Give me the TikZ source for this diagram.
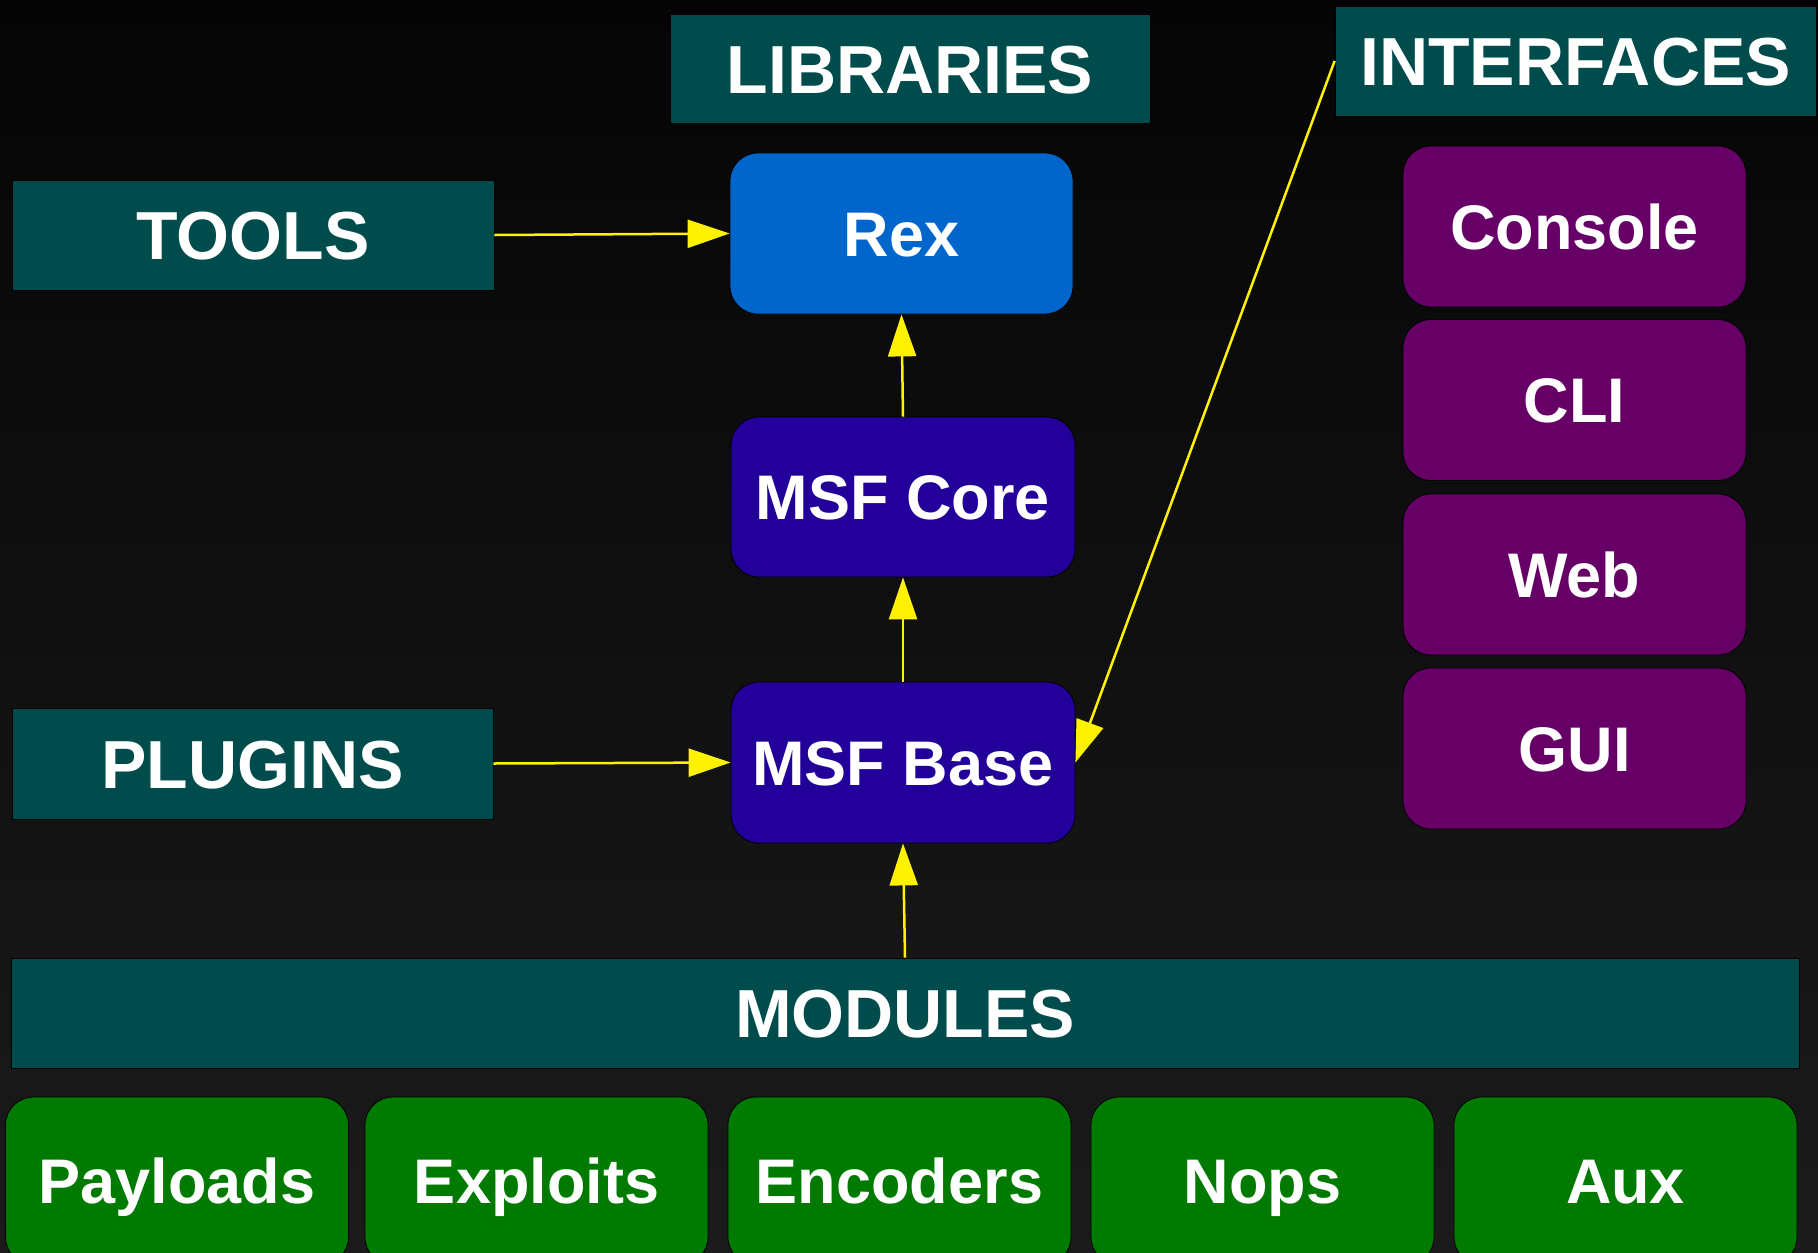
\documentclass[tikz,border=0pt]{standalone}
\usepackage{fontspec}
\setmainfont{Liberation Sans}
\usetikzlibrary{arrows.meta}
\definecolor{hdr}{HTML}{004C4C}
\definecolor{rexblue}{HTML}{0066CC}
\definecolor{msf}{HTML}{220099}
\definecolor{ifc}{HTML}{660066}
\definecolor{modg}{HTML}{007A00}
\definecolor{bgtop}{HTML}{050505}
\definecolor{bgbot}{HTML}{1B1B1B}
\begin{document}
\begin{tikzpicture}[x=1pt,y=-1pt,
  header/.style={fill=hdr,draw=black,line width=0.8pt,text=white,
    font=\fontsize{68}{80}\selectfont\bfseries,text height=49pt,text depth=0pt,inner sep=0pt},
  box/.style={draw=black,line width=0.8pt,rounded corners=28pt,text=white,
    minimum width=343pt,minimum height=161pt,
    font=\fontsize{63}{75}\selectfont\bfseries,text height=45pt,text depth=0pt,inner sep=0pt},
  link/.style={draw=yellow,line width=2.5pt,-{Triangle[length=42pt,width=28pt]}}
]
\useasboundingbox (0,0) rectangle (1818,1253);
\clip (0,0) rectangle (1818,1253);
\shade[top color=bgtop,bottom color=bgbot] (0,0) rectangle (1818,1253);

% headers
\node[header,minimum width=480pt,minimum height=109pt] (lib) at (910,68.5) {LIBRARIES};
\node[header,minimum width=481pt,minimum height=110pt] (intf) at (1575.5,61) {INTERFACES};
\node[header,minimum width=482pt,minimum height=110pt] (tools) at (253,235) {TOOLS};
\node[header,minimum width=481pt,minimum height=111pt] (plugins) at (252.5,763.5) {PLUGINS};
\node[header,minimum width=1788pt,minimum height=110pt] (modules) at (905,1013) {MODULES};

% library stack
\node[box,fill=rexblue] (rex) at (901.5,233.5) {Rex};
\node[box,fill=msf,minimum width=344pt,minimum height=160pt] (core) at (903,497) {MSF Core};
\node[box,fill=msf,minimum width=344pt] (base) at (903,762.5) {MSF Base};

% interfaces
\node[box,fill=ifc] (console) at (1574.5,226.5) {Console};
\node[box,fill=ifc] (cli) at (1574.5,400) {CLI};
\node[box,fill=ifc] (web) at (1574.5,574.5) {Web};
\node[box,fill=ifc] (gui) at (1574.5,748.5) {GUI};

% modules
\node[box,fill=modg,minimum height=168pt] (payloads) at (177,1181) {Payloads};
\node[box,fill=modg,minimum height=168pt] (exploits) at (536.5,1181) {Exploits};
\node[box,fill=modg,minimum height=168pt] (encoders) at (899.5,1181) {Encoders};
\node[box,fill=modg,minimum height=168pt] (nops) at (1262.5,1181) {Nops};
\node[box,fill=modg,minimum height=168pt] (aux) at (1625.5,1181) {Aux};

% connectors
\draw[link] (tools.east) -- (rex.west);
\draw[link] (core.north) -- (rex.south);
\draw[link] (base.north) -- (core.south);
\draw[link] (modules.north) -- (base.south);
\draw[link] (plugins.east) -- (base.west);
\draw[link] (intf.west) -- (base.east);
\end{tikzpicture}
\end{document}
